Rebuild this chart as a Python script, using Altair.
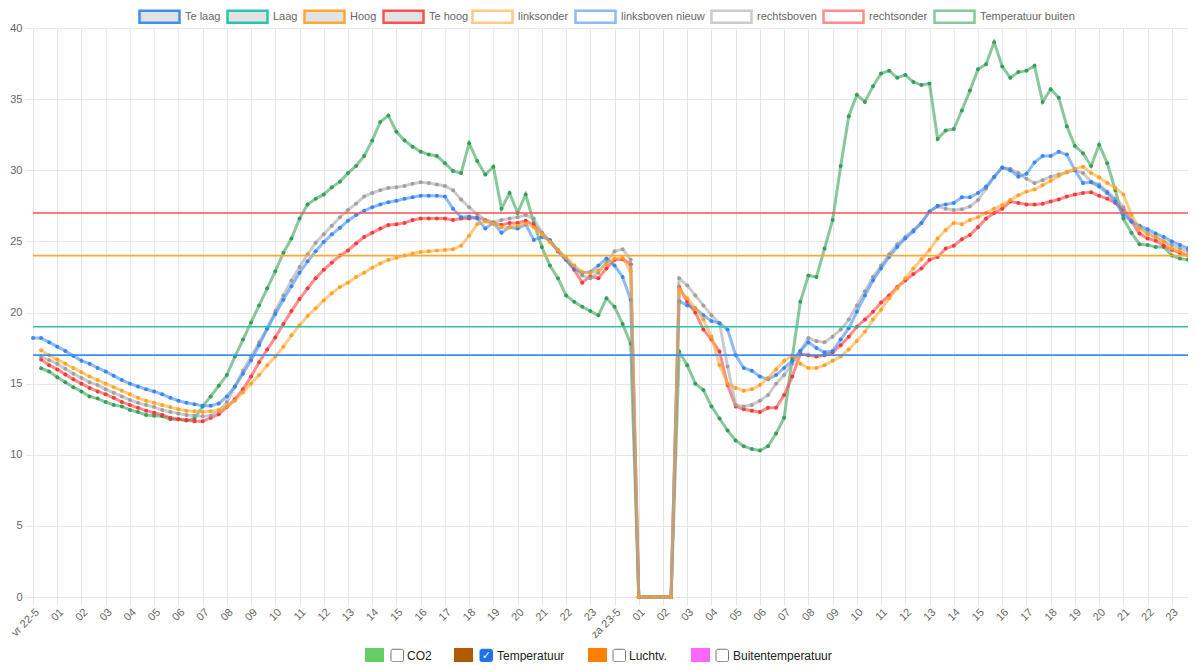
import json
import altair as alt
import pandas as pd

# ---------------- data ----------------
x_labels = ["vr 22-5"] + [f"{h:02d}" for h in range(1, 24)] + ["za 23-5"] + [f"{h:02d}" for h in range(1, 24)]

threshold_names = ["Te laag", "Laag", "Hoog", "Te hoog"]
threshold_values = [17, 19, 24, 27]

sensor_names = ["linksonder", "linksboven nieuw", "rechtsboven", "rechtsonder", "Temperatuur buiten"]

# samples every 20 minutes, starting vr 22-5 00:00 (None = no sample)
linksboven_nieuw = [
    18.2, 18.2, 17.9, 17.6, 17.3, 16.95, 16.6, 16.4, 16.1, 15.85,
    15.55, 15.25, 15.0, 14.8, 14.6, 14.45, 14.25, 14.0, 13.8, 13.65,
    13.55, 13.45, 13.45, 13.6, 14.1, 14.8, 15.7, 16.65, 17.7, 18.85,
    19.9, 20.9, 21.85, 22.8, 23.6, 24.3, 24.95, 25.5, 25.95, 26.45,
    26.85, 27.15, 27.4, 27.6, 27.75, 27.85, 28.0, 28.1, 28.2, 28.2,
    28.2, 28.15, 27.3, 26.7, 26.75, 26.6, 25.9, 26.3, 25.6, 26.0,
    25.9, 26.2, 25.1, 25.3, 25.1, 24.3, 23.7, 23.1, 22.8, 22.85,
    23.3, 23.8, 23.3, 22.5, 20.9, 0, 0, 0, 0, 0,
    20.8, 20.5, 20.3, 19.8, 19.4, 19.25, 18.8, 17.0, 16.1, 15.9,
    15.5, 15.3, 15.6, 16.1, 16.6, 17.3, 17.9, 17.5, 17.2, 17.3,
    18.1, 18.9, 20.05, 21.2, 22.25, 23.1, 23.9, 24.6, 25.2, 25.7,
    26.3, 27.1, 27.5, 27.6, 27.7, 28.1, 28.1, 28.4, 28.85, 29.55,
    30.2, 30.0, 29.55, 29.75, 30.55, 31.0, 31.0, 31.3, 31.1, 30.0,
    29.1, 29.15, 28.85, 28.4, 27.8, 26.85, 26.4, 26.1, 25.85, 25.55,
    25.3, 25.0, 24.75, 24.5,
]

linksonder = [
    None, 17.35, 17.0, 16.7, 16.4, 16.1, 15.8, 15.5, 15.25, 15.0,
    14.75, 14.5, 14.25, 14.0, 13.8, 13.65, 13.5, 13.35, 13.2, 13.1,
    13.05, 13.0, 13.05, 13.15, 13.4, 13.8, 14.4, 15.0, 15.6, 16.3,
    16.9, 17.6, 18.4, 19.1, 19.75, 20.3, 20.85, 21.35, 21.8, 22.1,
    22.5, 22.8, 23.15, 23.45, 23.7, 23.85, 24.0, 24.15, 24.25, 24.3,
    24.35, 24.4, 24.45, 24.7, 25.4, 26.2, 26.4, 26.25, 26.0, 26.0,
    26.1, 26.25, 26.0, 25.5, 24.95, 24.4, 23.85, 23.3, 22.85, 22.8,
    22.95, 23.4, 23.8, 23.85, 22.9, 0, 0, 0, 0, 0,
    21.6, 21.0, 20.3, 19.5, 18.3, 16.3, 15.0, 14.7, 14.5, 14.6,
    14.9, 15.4, 16.0, 16.6, 17.0, 16.4, 16.1, 16.1, 16.3, 16.6,
    16.9, 17.4, 18.0, 18.65, 19.5, 20.2, 21.0, 21.7, 22.4, 23.1,
    23.75, 24.4, 25.2, 25.8, 26.3, 26.2, 26.5, 26.7, 27.0, 27.3,
    27.55, 27.9, 28.25, 28.5, 28.65, 28.95, 29.25, 29.6, 29.9, 30.1,
    30.25, 29.8, 29.5, 29.1, 28.75, 28.3, 26.85, 25.9, 25.5, 25.3,
    25.0, 24.5, 24.3, 24.0,
]

rechtsboven = [
    None, 16.9, 16.65, 16.4, 16.05, 15.7, 15.4, 15.1, 14.9, 14.6,
    14.35, 14.1, 13.85, 13.65, 13.5, 13.35, 13.15, 13.0, 12.9, 12.8,
    12.75, 12.7, 12.75, 13.05, 13.7, 14.8, 15.9, 16.9, 17.9, 18.9,
    20.1, 21.2, 22.25, 23.2, 24.1, 24.9, 25.5, 26.1, 26.7, 27.2,
    27.65, 28.15, 28.4, 28.6, 28.75, 28.8, 28.9, 29.05, 29.15, 29.1,
    29.0, 28.9, 28.6, 27.95, 27.4, 26.9, 26.5, 26.35, 26.5, 26.6,
    26.7, 26.85, 26.6, 25.6, 25.0, 24.4, 23.8, 23.2, 22.6, 22.4,
    22.8, 23.5, 24.3, 24.45, 23.7, 0, 0, 0, 0, 0,
    22.4, 21.9, 21.2, 20.5, 19.8, 19.25, 16.2, 13.5, 13.4, 13.5,
    13.8, 14.2, 15.0, 15.6, 16.4, 17.3, 18.2, 18.0, 17.9, 18.3,
    18.8, 19.5, 20.5, 21.5, 22.5, 23.3, 24.1, 24.8, 25.3, 25.8,
    26.3, 27.1, 27.45, 27.3, 27.2, 27.25, 27.45, 27.9, 28.7, 29.5,
    30.2, 30.1, 29.8, 29.4, 29.1, 29.3, 29.55, 29.7, 29.85, 30.0,
    29.8, 29.2, 29.0, 28.5, 28.0, 27.4, 26.5, 26.0, 25.6, 25.3,
    25.0, 24.75, 24.5, 24.3,
]

rechtsonder = [
    None, 16.7, 16.3, 16.0, 15.65, 15.3, 15.0, 14.7, 14.45, 14.25,
    14.0, 13.7, 13.5, 13.3, 13.1, 12.95, 12.8, 12.6, 12.5, 12.45,
    12.35, 12.35, 12.6, 12.85, 13.35, 13.9, 14.6, 15.5, 16.5, 17.4,
    18.25, 19.2, 20.1, 20.95, 21.7, 22.4, 23.0, 23.5, 24.0, 24.35,
    24.85, 25.3, 25.6, 25.9, 26.15, 26.2, 26.3, 26.5, 26.6, 26.6,
    26.6, 26.6, 26.5, 26.6, 26.6, 26.7, 26.5, 26.25, 26.15, 26.3,
    26.3, 26.45, 26.15, 25.6, 25.0, 24.3, 23.7, 23.0, 22.1, 22.55,
    22.4, 23.1, 23.7, 23.75, 23.4, 0, 0, 0, 0, 0,
    21.8, 20.75, 20.0, 18.8, 18.1, 17.25, 14.9, 13.4, 13.2, 13.1,
    13.0, 13.3, 13.3, 14.2, 15.5, 17.1, 17.0, 16.9, 17.0, 17.2,
    17.7, 18.3, 19.0, 19.5, 20.05, 20.7, 21.2, 21.8, 22.25, 22.7,
    23.1, 23.7, 23.9, 24.5, 24.7, 25.15, 25.45, 26.0, 26.6, 27.0,
    27.3, 27.8, 27.7, 27.6, 27.6, 27.65, 27.8, 27.95, 28.15, 28.3,
    28.4, 28.45, 28.2, 28.0, 27.7, 27.25, 26.4, 25.55, 25.2, 25.05,
    24.7, 24.4, 24.2, 24.0,
]

temperatuur_buiten = [
    None, 16.08, 15.85, 15.45, 15.1, 14.75, 14.45, 14.1, 13.95, 13.7,
    13.5, 13.4, 13.15, 13.0, 12.8, 12.75, 12.7, 12.5, 12.5, 12.4,
    12.55, 13.4, 14.1, 14.85, 15.6, 16.9, 18.1, 19.3, 20.5, 21.7,
    22.9, 24.2, 25.2, 26.6, 27.6, 28.0, 28.3, 28.8, 29.2, 29.8,
    30.3, 31.0, 32.1, 33.4, 33.85, 32.7, 32.1, 31.65, 31.3, 31.1,
    31.0, 30.5, 29.95, 29.8, 31.9, 30.65, 29.7, 30.25, 27.3, 28.4,
    27.0, 28.3, 26.3, 24.6, 23.3, 22.4, 21.2, 20.75, 20.4, 20.1,
    19.8, 21.0, 20.4, 19.2, 17.8, 0, 0, 0, 0, 0,
    17.25, 16.3, 15.0, 14.55, 13.4, 12.55, 11.7, 11.0, 10.6, 10.4,
    10.3, 10.6, 11.5, 12.6, 16.8, 20.75, 22.6, 22.5, 24.5, 26.5,
    30.3, 33.8, 35.3, 34.8, 35.9, 36.8, 37.0, 36.5, 36.7, 36.2,
    36.0, 36.1, 32.2, 32.8, 32.9, 34.2, 35.6, 37.1, 37.45, 39.0,
    37.3, 36.5, 36.9, 37.0, 37.35, 34.8, 35.7, 35.1, 33.1, 31.7,
    31.2, 30.3, 31.8, 30.5, 28.6, 26.6, 25.6, 24.8, 24.75, 24.6,
    24.6, 24.0, 23.8, 23.7,
]

bottom_labels = ["CO2", "Temperatuur", "Luchtv.", "Buitentemperatuur"]
bottom_checked = [False, True, False, False]

# ---------------- styles ----------------
threshold_colors = ["#3d8ef0", "#2cc2b2", "#ffa733", "#ff5050"]
sensor_line_colors = ["#ffa838", "#3f8ef2", "#a9a9a9", "#ff4040", "#3aa35c"]
sensor_point_colors = ["#ff9f1a", "#2f82f0", "#9a9a9a", "#f53030", "#2a9a50"]
bottom_colors = ["#66cc66", "#b05a00", "#ff8000", "#ff66ff"]
bottom_x = [365, 454, 588, 691]  # page x of the coloured squares
bottom_cb_x = [391, 480, 613, 716]
bottom_text_x = [407, 497, 629, 733]

FONT = "Liberation Sans"
GRID = "#e6e6e6"
LEFT, TOP = 25, 20
W, H = 1155, 569

samples = []
for name, vals in zip(sensor_names, [linksonder, linksboven_nieuw, rechtsboven, rechtsonder, temperatuur_buiten]):
    for i, v in enumerate(vals):
        if v is not None:
            samples.append({"series": name, "hour": i / 3, "value": v})
df = pd.DataFrame(samples)
thr_df = pd.DataFrame({"name": threshold_names, "value": threshold_values})

x_scale = alt.Scale(domain=[0, 143 / 3], nice=False, zero=False)
y_scale = alt.Scale(domain=[0, 40], nice=False)

x_axis = alt.Axis(
    values=list(range(48)),
    labelExpr=json.dumps(x_labels) + "[datum.value]",
    labelAngle=315, labelAlign="right", labelBaseline="top",
    labelFontSize=11, labelColor="#666", labelPadding=1,
    labelOverlap=False, labelFlush=False, labelBound=False,
    tickSize=8, tickColor=GRID, gridColor=GRID, domainColor=GRID, title=None,
)
y_axis = alt.Axis(
    values=list(range(0, 41, 5)), labelFontSize=11, labelColor="#666",
    tickSize=8, tickColor=GRID, gridColor=GRID, domainColor=GRID,
    labelPadding=3, title=None,
)
X = alt.X("hour:Q", scale=x_scale, axis=x_axis)
Y = alt.Y("value:Q", scale=y_scale, axis=y_axis)

box_path = "M-1,-0.3H1V0.3H-1Z"
legend_common = dict(
    orient="none", legendY=15 - 8 - TOP - 20, direction="horizontal", title=None,
    symbolType=box_path, symbolSize=1600, symbolStrokeWidth=2.5,
    labelFontSize=11, labelColor="#666", labelFont=FONT,
    labelOffset=4, columnPadding=1, padding=0,
)
sensor_legend = alt.Legend(legendX=471 - 8 - LEFT, symbolFillColor="white", **legend_common)
thr_legend = alt.Legend(legendX=138 - 8 - LEFT, symbolFillColor="#e2e2e2", **legend_common)

color_sensors = alt.Color(
    "series:N", scale=alt.Scale(domain=sensor_names, range=sensor_line_colors),
    legend=sensor_legend,
)

sensor_layers = []
# Chart.js draws the first dataset on top -> draw in reverse order
for name, pc in reversed(list(zip(sensor_names, sensor_point_colors))):
    base = alt.Chart(df).transform_filter(alt.datum.series == name)
    sensor_layers.append(
        base.mark_line(strokeWidth=3, opacity=0.6).encode(x=X, y=Y, color=color_sensors)
    )
    sensor_layers.append(
        base.mark_circle(size=16, opacity=0.9, color=pc).encode(x=X, y=Y)
    )
sensors = alt.layer(*sensor_layers)

rules = alt.Chart(thr_df).mark_rule(strokeWidth=1.6).encode(
    y=Y,
    color=alt.Color("name:N", scale=alt.Scale(domain=threshold_names, range=threshold_colors),
                    legend=thr_legend),
)

# bottom checkbox legend (page decoration, not data)
one = pd.DataFrame({"k": [0]})
deco = []
cy = 655.5 - 8 - TOP
for lab, col, chk, sx, cx, tx in zip(bottom_labels, bottom_colors, bottom_checked, bottom_x, bottom_cb_x, bottom_text_x):
    ox = 8 + LEFT
    deco.append(alt.Chart(one).mark_rect(color=col).encode(
        x=alt.value(sx - ox), x2=alt.value(sx - ox + 19),
        y=alt.value(cy - 7.5), y2=alt.value(cy + 7.5)))
    deco.append(alt.Chart(one).mark_rect(
        fill="#1a73e8" if chk else "white", stroke="#1a73e8" if chk else "#767676",
        strokeWidth=1, cornerRadius=2).encode(
        x=alt.value(cx - ox), x2=alt.value(cx - ox + 12.5),
        y=alt.value(cy - 6.25), y2=alt.value(cy + 6.25)))
    if chk:
        deco.append(alt.Chart(one).mark_text(
            text="\u2713", color="white", fontSize=11, fontWeight="bold",
            font="DejaVu Sans", align="center", baseline="middle").encode(
            x=alt.value(cx - ox + 6.25), y=alt.value(cy + 0.5)))
    deco.append(alt.Chart(one).mark_text(
        text=lab, color="#222", fontSize=12, font=FONT, align="left", baseline="middle").encode(
        x=alt.value(tx - ox), y=alt.value(cy)))

chart = alt.layer(sensors, rules, *deco).resolve_scale(color="independent").properties(
    width=W, height=H,
    autosize=alt.AutoSizeParams(type="none"),
    padding={"left": LEFT, "top": TOP, "right": 0, "bottom": 654 - TOP - H},
).configure_view(stroke=None).configure(font=FONT)

chart.save("out.html", embed_options={"renderer": "svg", "actions": False})
